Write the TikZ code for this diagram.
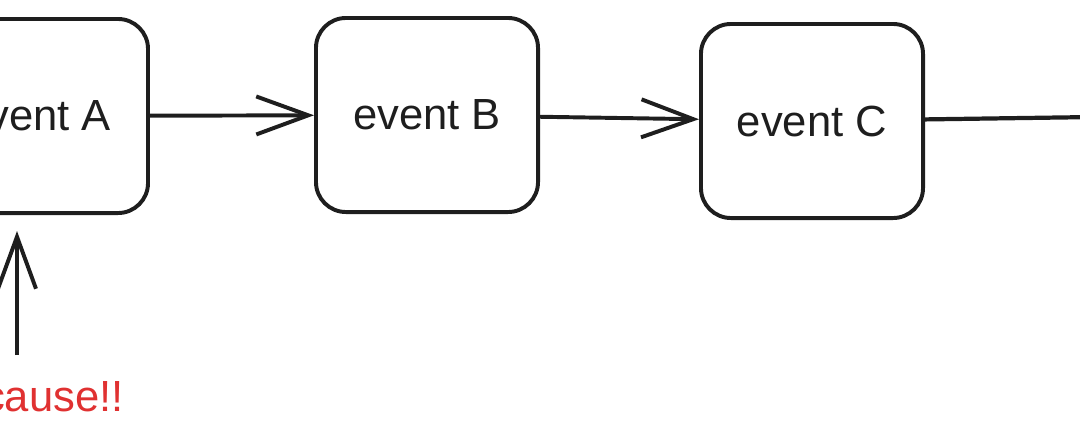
\documentclass[tikz,border=0pt]{standalone}
\usepackage{fontspec}
\setmainfont{Liberation Sans}
\usepackage{tikz}
\usetikzlibrary{calc,arrows.meta}

\definecolor{inkblack}{HTML}{1E1E1E}
\definecolor{inkred}{HTML}{E03131}

\tikzset{
  eventbox/.style={draw=inkblack, line width=2.8pt, rounded corners=0.75cm,
    minimum width=5.55cm, minimum height=4.85cm, text=inkblack,
    font=\fontsize{31}{37}\selectfont},
  arr/.style={draw=inkblack, line width=2.8pt,
    -{Straight Barb[length=1.3cm,width=0.95cm]}},
  causetext/.style={text=inkred, font=\fontsize{31}{37}\selectfont, inner sep=0pt}
}

\begin{document}
\begin{tikzpicture}[x=0.025cm,y=-0.025cm]
  \useasboundingbox (0,0) rectangle (1080,443);
  \clip (0,0) rectangle (1080,443);

  %% The chain of events
  \foreach \name/\x/\y in {A/37/116,B/427/115,C/812/121}
  {
    \node[eventbox] (EV\name) at (\x,\y) {event \name};
  }

  %% Arrows between the events
  \draw[arr] (EVA) -- (EVB);
  \draw[arr] (EVB) -- (EVC);

  %% Line leaving event C
  \coordinate (OUT) at (1095,117);
  \draw[draw=inkblack, line width=3pt] (EVC) -- (OUT);

  %% The cause
  \node[causetext, anchor=base east] (CAUSE) at (124,411) {cause!!};
  \coordinate (CSTART) at (17,355);
  \draw[arr, shorten >=0.4cm] (CSTART) -- (EVA.south -| CSTART);

\end{tikzpicture}
\end{document}
